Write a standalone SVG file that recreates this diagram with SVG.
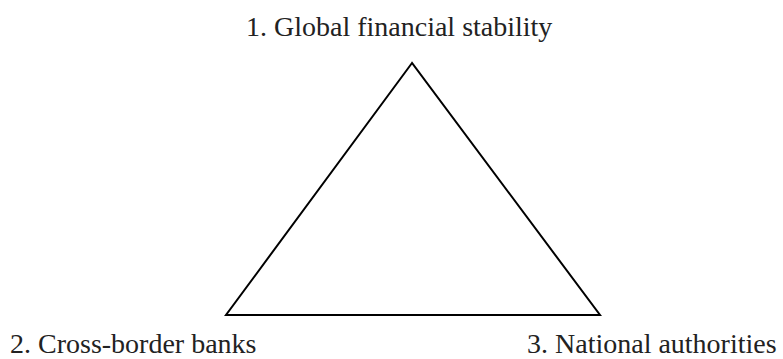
<svg xmlns="http://www.w3.org/2000/svg" width="783" height="359" viewBox="0 0 783 359">
<style>
text{font-family:"Liberation Serif","Times New Roman",serif;font-size:28px;fill:#222}
.edge{fill:none;stroke:#000;stroke-width:2;stroke-linejoin:miter}
</style>
<rect width="783" height="359" fill="#fff"/>
<g id="connectors">
<path class="edge" d="M412,63 L226,315 L600,315 Z"/>
</g>
<g id="node1"><text x="246" y="36">1. Global financial stability</text></g>
<g id="node2"><text x="10" y="353">2. Cross-border banks</text></g>
<g id="node3"><text x="527" y="353">3. National authorities</text></g>
</svg>
